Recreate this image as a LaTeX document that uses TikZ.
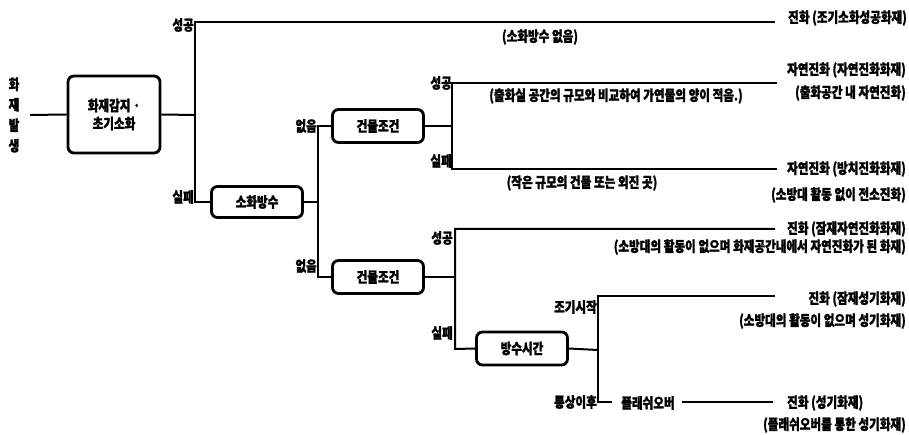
\documentclass[tikz,border=0pt]{standalone}
\usepackage{fontspec}
\newfontfamily\kr{Noto Sans CJK KR}[FakeStretch=0.8, FakeBold=1.5]
\begin{document}
\begin{tikzpicture}[x=1pt,y=-1pt,
  every node/.style={font=\kr\bfseries\fontsize{14.5}{16}\selectfont, inner sep=0pt},
  ln/.style={line width=2pt},
  box/.style={draw, line width=2.8pt, rounded corners=6pt, align=center, minimum width=91pt, minimum height=33pt}]
\useasboundingbox (0,0) rectangle (909,435);

% start
\node[align=center, font=\kr\bfseries\fontsize{14.5}{20.5}\selectfont] (start) at (14,115) {화\\재\\발\\생};
\coordinate (s0) at (30,115);

% boxes
\node[box, minimum width=92pt, minimum height=77pt, font=\kr\bfseries\fontsize{14.5}{18}\selectfont] (b1) at (114,114.5) {화재감지 ·\\초기소화};
\node[box, minimum height=31pt] (b2) at (257,202) {소화방수};
\node[box] (b3) at (378,126) {건물조건};
\node[box] (b4) at (378,277) {건물조건};
\node[box] (b5) at (522,348.5) {방수시간};

% junction coordinates
\coordinate (j1) at (195,115);
\coordinate (j1t) at (195,22.5);
\coordinate (j1b) at (195,202);
\coordinate (e1) at (775,22.5);

\coordinate (j2) at (318,202);
\coordinate (j2t) at (318,126);
\coordinate (j2b) at (318,277);

\coordinate (j3) at (452,126);
\coordinate (j3t) at (452,83);
\coordinate (j3b) at (452,169);
\coordinate (e3t) at (777,83);
\coordinate (e3b) at (777,169);

\coordinate (j4) at (455,277);
\coordinate (j4t) at (455,229);
\coordinate (j4b) at (455,349);
\coordinate (e4t) at (775,229);

\coordinate (j5) at (598,350);
\coordinate (j5t) at (598,296);
\coordinate (j5b) at (598,402);
\coordinate (e5t) at (775,296);
\coordinate (f0) at (612,402);
\coordinate (e5b) at (773,402);

% connectors
\draw[ln] (s0) -- (b1.west);
\draw[ln] (b1.east) -- (j1);
\draw[ln] (e1) -- (j1t) -- (j1b) -- (b2.west);
\draw[ln] (b2.east) -- (j2);
\draw[ln] (b3.west) -- (j2t) -- (j2b) -- (b4.west);
\draw[ln] (b3.east) -- (j3);
\draw[ln] (e3t) -- (j3t) -- (j3b) -- (e3b);
\draw[ln] (b4.east) -- (j4);
\draw[ln] (e4t) -- (j4t) -- (j4b) -- (b5.west);
\draw[ln] (b5.east) -- (j5);
\draw[ln] (e5t) -- (j5t) -- (j5b) -- (f0);
\node (fo) at (648,403) {플래쉬오버};
\coordinate (f1) at (682,402);
\draw[ln] (f1) -- (e5b);

% branch labels
\node[anchor=east] (l1) at (194,25) {성공};
\node[anchor=east] (l2) at (194,197) {실패};
\node[anchor=east] (l3) at (317,126) {없음};
\node[anchor=east] (l4) at (317,266) {없음};
\node[anchor=east] (l5) at (452,83) {성공};
\node[anchor=east] (l6) at (452,161) {실패};
\node[anchor=east] (l7) at (453,238) {성공};
\node[anchor=east] (l8) at (453,333) {실패};
\node[anchor=east] (l9) at (597,307) {조기시작};
\node[anchor=east] (l10) at (597,402) {통상이후};

% outcome texts
\node[anchor=west] (r1) at (788,18) {진화 (조기소화성공화재)};
\node (n1) at (540,37) {(소화방수 없음)};
\node (n2) at (616,96) {(출화실 공간의 규모와 비교하여 가연물의 양이 적음.)};
\node[anchor=east] (r2) at (906,70) {자연진화 (자연진화화재)};
\node[anchor=east] (r2b) at (906,93) {(출화공간 내 자연진화)};
\node (n3) at (582,183) {(작은 규모의 건물 또는 외진 곳)};
\node[anchor=east] (r3) at (906,169) {자연진화 (방치진화화재)};
\node[anchor=east] (r3b) at (906,195) {(소방대 활동 없이 전소진화)};
\node[anchor=east] (r4) at (906,229) {진화 (잠재자연진화화재)};
\node[anchor=east] (r4b) at (906,247) {(소방대의 활동이 없으며 화재공간내에서 자연진화가 된 화재)};
\node[anchor=east] (r5) at (906,299) {진화 (잠재성기화재)};
\node[anchor=east] (r5b) at (906,321) {(소방대의 활동이 없으며 성기화재)};
\node[anchor=west] (r6) at (787,403) {진화 (성기화재)};
\node[anchor=east] (r6b) at (906,425) {(플래쉬오버를 통한 성기화재)};
\end{tikzpicture}
\end{document}
